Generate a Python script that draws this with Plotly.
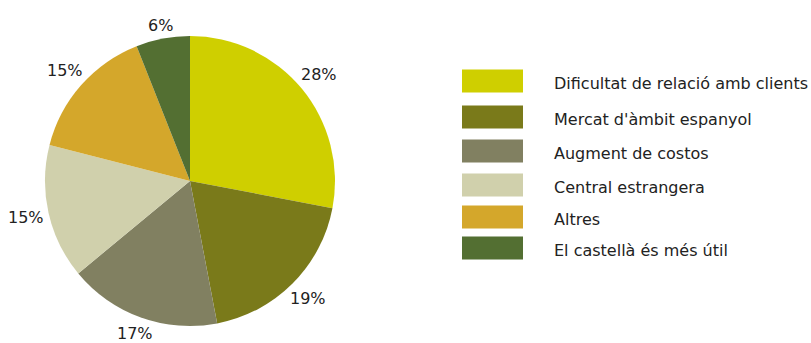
import math
import plotly.graph_objects as go

# Reasons given, share of respondents (%)
labels = [
    "Dificultat de relació amb clients",
    "Mercat d'àmbit espanyol",
    "Augment de costos",
    "Central estrangera",
    "Altres",
    "El castellà és més útil",
]
values = [28, 19, 17, 15, 15, 6]
colors = ["#cfcf00", "#7a7a1a", "#818061", "#d0d0ac", "#d4a72b", "#536f32"]

W, H = 811, 343
cx, cy, r = 190, 181, 145
gap = 4          # clearance between pie edge and label box (px)
lab_size = 16
lab_h = 15       # approximate label box height (px)

fig = go.Figure()
fig.add_trace(go.Pie(
    labels=labels,
    values=values,
    sort=False,
    direction="clockwise",
    rotation=0,
    marker=dict(colors=colors, line=dict(width=0)),
    textinfo="none",
    showlegend=False,
    hoverinfo="label+percent",
    domain=dict(x=[(cx - r) / W, (cx + r) / W],
                y=[1 - (cy + r) / H, 1 - (cy - r) / H]),
))

# Percentage labels: box pushed outward along each slice's mid-angle so its
# nearest side sits just outside the rim
total = sum(values)
cum = 0
for v in values:
    mid = (cum + v / 2) / total * 2 * math.pi
    cum += v
    txt = f"{v}%"
    lab_w = 11.7 * len(txt)
    s, c = math.sin(mid), math.cos(mid)
    half = abs(s) * lab_w / 2 + abs(c) * lab_h / 2
    dist = r + gap + half
    px = cx + dist * s
    py = cy - dist * c
    fig.add_annotation(xref="paper", yref="paper", x=px / W, y=1 - py / H,
                       text=txt, showarrow=False,
                       xanchor="center", yanchor="middle",
                       font=dict(family="DejaVu Sans", size=lab_size, color="#222222"))

# Hand-built legend: swatch blocks with labels alongside
sw_x0, sw_x1 = 462, 523
txt_x = 552
row_y = [81, 117, 151, 185, 217, 248]
sw_h = 23
for lab, col, yc in zip(labels, colors, row_y):
    fig.add_shape(type="rect", xref="paper", yref="paper",
                  x0=sw_x0 / W, x1=sw_x1 / W,
                  y0=1 - (yc + sw_h / 2) / H, y1=1 - (yc - sw_h / 2) / H,
                  fillcolor=col, line=dict(width=0))
    fig.add_annotation(xref="paper", yref="paper", x=txt_x / W, y=1 - (yc + 2.5) / H,
                       text=lab, showarrow=False, xanchor="left", yanchor="middle",
                       font=dict(family="DejaVu Sans", size=16, color="#222222"))

fig.update_layout(
    width=W, height=H,
    margin=dict(l=0, r=0, t=0, b=0),
    paper_bgcolor="white",
    plot_bgcolor="white",
)

fig.write_html("out.html")
